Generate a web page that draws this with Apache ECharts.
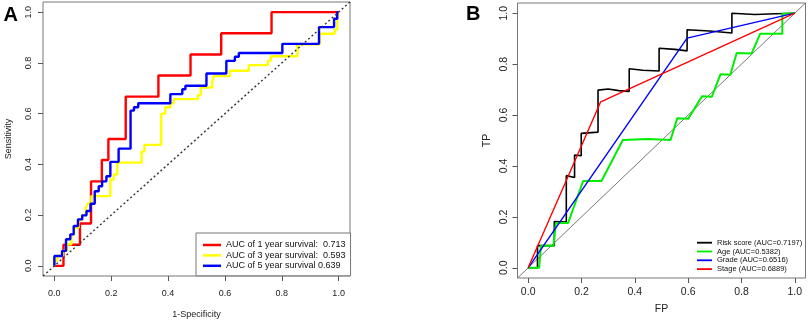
<!DOCTYPE html>
<html><head><meta charset="utf-8">
<script src="https://cdn.jsdelivr.net/npm/echarts@6/dist/echarts.min.js"></script>
<style>html,body{margin:0;padding:0;background:#fff}#c{width:809px;height:320px}</style>
</head><body><div id="c"></div><script>
// ---------- Panel A data (time-dependent ROC) ----------
const tickValues = [0, 0.2, 0.4, 0.6, 0.8, 1.0];
const legendA = ['AUC of 1 year survival:  0.713', 'AUC of 3 year survival:  0.593', 'AUC of 5 year survival 0.639'];
const oneYearFpr = [0, 0.032, 0.032, 0.09, 0.09, 0.129, 0.129, 0.167, 0.167, 0.19, 0.19, 0.251, 0.251, 0.366, 0.366, 0.479, 0.479, 0.587, 0.587, 0.764, 0.764, 1];
const oneYearTpr = [0, 0, 0.083, 0.083, 0.167, 0.167, 0.333, 0.333, 0.417, 0.417, 0.5, 0.5, 0.667, 0.667, 0.75, 0.75, 0.833, 0.833, 0.917, 0.917, 1, 1];
const threeYearFpr = [0, 0, 0.01, 0.01, 0.03, 0.03, 0.045, 0.045, 0.06, 0.06, 0.07, 0.07, 0.085, 0.085, 0.096, 0.096, 0.11, 0.11, 0.117, 0.117, 0.13, 0.13, 0.197, 0.197, 0.209, 0.209, 0.221, 0.221, 0.307, 0.307, 0.317, 0.317, 0.376, 0.376, 0.39, 0.39, 0.408, 0.408, 0.42, 0.42, 0.505, 0.505, 0.515, 0.515, 0.555, 0.555, 0.561, 0.561, 0.617, 0.617, 0.684, 0.684, 0.751, 0.751, 0.761, 0.761, 0.855, 0.855, 0.934, 0.934, 0.986, 0.986, 0.995, 0.995, 1, 1];
const threeYearTpr = [0, 0.02, 0.02, 0.04, 0.04, 0.06, 0.06, 0.085, 0.085, 0.125, 0.125, 0.15, 0.15, 0.18, 0.18, 0.2, 0.2, 0.225, 0.225, 0.246, 0.246, 0.275, 0.275, 0.34, 0.34, 0.36, 0.36, 0.407, 0.407, 0.451, 0.451, 0.477, 0.477, 0.6, 0.6, 0.625, 0.625, 0.641, 0.641, 0.657, 0.657, 0.673, 0.673, 0.703, 0.703, 0.725, 0.725, 0.748, 0.748, 0.769, 0.769, 0.791, 0.791, 0.808, 0.808, 0.826, 0.826, 0.873, 0.873, 0.915, 0.915, 0.931, 0.931, 0.97, 0.97, 1];
const fiveYearFpr = [0, 0, 0.027, 0.027, 0.041, 0.041, 0.056, 0.056, 0.068, 0.068, 0.083, 0.083, 0.098, 0.098, 0.113, 0.113, 0.127, 0.127, 0.142, 0.142, 0.156, 0.156, 0.168, 0.168, 0.183, 0.183, 0.197, 0.197, 0.226, 0.226, 0.268, 0.268, 0.28, 0.28, 0.295, 0.295, 0.408, 0.408, 0.45, 0.45, 0.461, 0.461, 0.535, 0.535, 0.605, 0.605, 0.635, 0.635, 0.649, 0.649, 0.802, 0.802, 0.931, 0.931, 0.984, 0.984, 0.995, 0.995, 1];
const fiveYearTpr = [0, 0.039, 0.039, 0.059, 0.059, 0.105, 0.105, 0.124, 0.124, 0.157, 0.157, 0.183, 0.183, 0.199, 0.199, 0.216, 0.216, 0.245, 0.245, 0.294, 0.294, 0.314, 0.314, 0.333, 0.333, 0.353, 0.353, 0.41, 0.41, 0.462, 0.462, 0.612, 0.612, 0.625, 0.625, 0.641, 0.641, 0.677, 0.677, 0.696, 0.696, 0.71, 0.71, 0.758, 0.758, 0.808, 0.808, 0.824, 0.824, 0.839, 0.839, 0.875, 0.875, 0.941, 0.941, 0.974, 0.974, 1, 1];
const diagFull = [-0.04, 1.04];

// ---------- Panel B data ----------
const legendB = ['Risk score (AUC=0.7197)', 'Age (AUC=0.5382)', 'Grade (AUC=0.6516)', 'Stage (AUC=0.6889)'];
const riskFpr = [0, 0.035, 0.035, 0.098, 0.098, 0.143, 0.143, 0.174, 0.174, 0.199, 0.199, 0.262, 0.262, 0.30, 0.34, 0.379, 0.379, 0.43, 0.491, 0.491, 0.55, 0.596, 0.596, 0.68, 0.764, 0.764, 0.85, 0.93, 1];
const riskTpr = [0, 0, 0.087, 0.087, 0.182, 0.18, 0.362, 0.355, 0.443, 0.44, 0.528, 0.533, 0.698, 0.702, 0.696, 0.693, 0.782, 0.776, 0.773, 0.862, 0.858, 0.852, 0.935, 0.93, 0.922, 1.0, 0.995, 0.998, 1];
const ageFpr = [0, 0.041, 0.048, 0.095, 0.104, 0.15, 0.206, 0.275, 0.355, 0.45, 0.534, 0.559, 0.6, 0.652, 0.689, 0.721, 0.758, 0.782, 0.838, 0.87, 0.953, 0.953, 1];
const ageTpr = [0, 0, 0.087, 0.087, 0.176, 0.176, 0.341, 0.341, 0.502, 0.506, 0.502, 0.587, 0.585, 0.674, 0.672, 0.76, 0.758, 0.844, 0.842, 0.919, 0.919, 0.998, 1];
const gradeFpr = [0, 0.596, 1];
const gradeTpr = [0, 0.902, 1];
const stageFpr = [0, 0.272, 1];
const stageTpr = [0, 0.652, 1];

const FONT = '"Liberation Sans", Arial, sans-serif';
const zip = (xs, ys) => xs.map((x, i) => [x, ys[i]]);

function axis(gridIndex, isY, fs, margin, name, nameGap, nameFs) {
  return {
    type: 'value', gridIndex, min: -0.04, max: 1.04,
    splitLine: { show: false },
    axisLine: { show: false, onZero: false },
    axisTick: { show: true, inside: false, length: 5, customValues: tickValues, lineStyle: { color: '#555', width: 1 } },
    axisLabel: { customValues: tickValues, formatter: v => v.toFixed(1), fontFamily: FONT, fontSize: fs, color: '#222', margin, rotate: isY ? 90 : 0 },
    name, nameLocation: 'middle', nameGap, nameRotate: isY ? 90 : 0,
    nameTextStyle: { fontFamily: FONT, fontSize: nameFs, color: '#222' }
  };
}
function line(name, xi, xs, ys, color, width, extra) {
  return Object.assign({
    type: 'line', name, xAxisIndex: xi, yAxisIndex: xi, data: zip(xs, ys),
    symbol: 'none', color, lineStyle: { color, width }, animation: false, clip: true
  }, extra || {});
}

const chart = echarts.init(document.getElementById('c'), null, { renderer: 'canvas' });
chart.setOption({
  animation: false,
  backgroundColor: '#fff',
  title: [
    { text: 'A', left: 3.5, top: 5, padding: 0, textStyle: { fontFamily: FONT, fontSize: 20, fontWeight: 'bold', color: '#000' } },
    { text: 'B', left: 466, top: 4, padding: 0, textStyle: { fontFamily: FONT, fontSize: 20, fontWeight: 'bold', color: '#000' } }
  ],
  grid: [
    { left: 43, top: 2, width: 307, height: 274, show: true, borderColor: '#777', borderWidth: 1, backgroundColor: 'transparent', containLabel: false, outerBoundsMode: 'none' },
    { left: 517.5, top: 3, width: 288, height: 275, show: true, borderColor: '#777', borderWidth: 1, backgroundColor: 'transparent', containLabel: false, outerBoundsMode: 'none' }
  ],
  xAxis: [
    axis(0, false, 9, 13.5, '1-Specificity', 34, 9),
    axis(1, false, 10.5, 9, 'FP', 26, 10.5)
  ],
  yAxis: [
    axis(0, true, 9, 10, 'Sensitivity', 30, 9),
    axis(1, true, 10.5, 8, 'TP', 25, 10.5)
  ],
  legend: [
    { orient: 'vertical', left: 196, top: 233, padding: [7, 5, 5, 7], itemGap: 0.4, itemWidth: 18, itemHeight: 2.5, icon: 'rect',
      borderColor: '#777', borderWidth: 1, backgroundColor: '#fff', selectedMode: false,
      textStyle: { fontFamily: FONT, fontSize: 9, color: '#111', lineHeight: 10 }, data: legendA },
    { orient: 'vertical', left: 697, top: 238.3, padding: 0, itemGap: 0, itemWidth: 15, itemHeight: 1.8, icon: 'rect', selectedMode: false,
      textStyle: { fontFamily: FONT, fontSize: 7.5, color: '#111', lineHeight: 8.8 }, data: legendB }
  ],
  series: [
    line(legendA[0], 0, oneYearFpr, oneYearTpr, '#ff0000', 2.4),
    line(legendA[1], 0, threeYearFpr, threeYearTpr, '#ffff00', 2.4),
    line(legendA[2], 0, fiveYearFpr, fiveYearTpr, '#0000ff', 2.4),
    line('diagA', 0, diagFull, diagFull, '#333', 1.4, { lineStyle: { color: '#333', width: 1.4, type: [2, 2.5] } }),
    line('diagB', 1, diagFull, diagFull, '#777', 1),
    line(legendB[0], 1, riskFpr, riskTpr, '#000000', 1.6),
    line(legendB[1], 1, ageFpr, ageTpr, '#00ee00', 2),
    line(legendB[2], 1, gradeFpr, gradeTpr, '#0000ff', 1.4),
    line(legendB[3], 1, stageFpr, stageTpr, '#ff0000', 1.4)
  ]
});
</script></body></html>
